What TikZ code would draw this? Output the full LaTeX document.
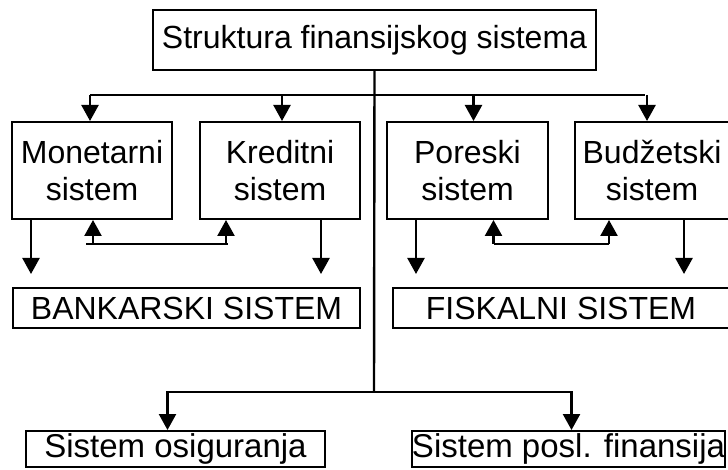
\documentclass[tikz,border=0pt]{standalone}
\usepackage{fontspec}
\setmainfont{Liberation Sans}
\usepackage{tikz}
\usetikzlibrary{arrows.meta}

\begin{document}
\begin{tikzpicture}[x=1pt, y=-1pt, >={Triangle[length=16pt,width=17pt]},
  font=\fontsize{32}{37}\selectfont,
  box/.style={draw, line width=2pt, align=center, inner sep=0pt},
  wide/.style={box, minimum height=40pt},
  low/.style={box, minimum height=36pt, font=\fontsize{33}{37}\selectfont},
  sub/.style={box, minimum width=#1, minimum height=97pt},
  link/.style={line width=2.4pt},
  flow/.style={->, line width=2.4pt}]
\useasboundingbox (0,0) rectangle (728,470);
\node[box, minimum width=443pt, minimum height=60pt] (struk) at (374.5,40) {Struktura finansijskog sistema};
\node[sub=160pt] (mon)  at (92,170.5)   {Monetarni\\sistem};
\node[sub=160pt] (kred) at (280,170.5)  {Kreditni\\sistem};
\node[sub=161pt] (por)  at (467.5,170.5){Poreski\\sistem};
\node[sub=154pt] (budz) at (652,170.5)  {Budžetski\\sistem};
\node[wide, minimum width=347pt] (bank) at (186.5,308) {BANKARSKI SISTEM};
\node[wide, minimum width=336pt] (fisk) at (561,308)   {FISKALNI SISTEM};
\node[low, minimum width=299pt] (osig) at (175.5,449) {Sistem osiguranja};
\node[low, minimum width=307pt] (posl) at (568.5,449) {Sistem posl. finansija};
\coordinate (bus) at (374,95);
\coordinate (split) at (374,392);

% trunk and upper bus
\draw[link] (struk.south) -- (split);
\draw[link] ([xshift=-2]mon.north |- bus) -- ([xshift=-7]budz.north |- bus);
\draw[flow] ([xshift=-2]mon.north |- bus) -- ([xshift=-2]mon.north);
\draw[flow] ([xshift=2]kred.north |- bus) -- ([xshift=2]kred.north);
\draw[flow] ([xshift=6]por.north |- bus) -- ([xshift=6]por.north);
\draw[flow] ([xshift=-5]budz.north |- bus) -- ([xshift=-5]budz.north);

% links between pairs
\draw[link] ([xshift=-6,yshift=-24]mon.south) -- ([xshift=-52,yshift=-24]kred.south);
\draw[flow] ([xshift=1,yshift=-24]mon.south) -- ([xshift=1]mon.south);
\draw[flow] ([xshift=-54,yshift=-24]kred.south) -- ([xshift=-54]kred.south);
\draw[link] ([xshift=26,yshift=-24]por.south) -- ([xshift=-43,yshift=-24]budz.south);
\draw[flow] ([xshift=26,yshift=-24]por.south) -- ([xshift=26]por.south);
\draw[flow] ([xshift=-43,yshift=-24]budz.south) -- ([xshift=-43]budz.south);

% down to sectors
\draw[flow] ([xshift=20]mon.south west) -- ([xshift=20,yshift=13]mon.south west |- bank.north);
\draw[flow] ([xshift=-40]kred.south east) -- ([xshift=-40,yshift=13]kred.south east |- bank.north);
\draw[flow] ([xshift=30]por.south west) -- ([xshift=30,yshift=13]por.south west |- fisk.north);
\draw[flow] ([xshift=110]budz.south west) -- ([xshift=110,yshift=13]budz.south west |- fisk.north);

% lower branch
\draw[flow] (split) -| ([xshift=-8]osig.north);
\draw[flow] (split) -| ([xshift=3]posl.north);
\end{tikzpicture}
\end{document}
